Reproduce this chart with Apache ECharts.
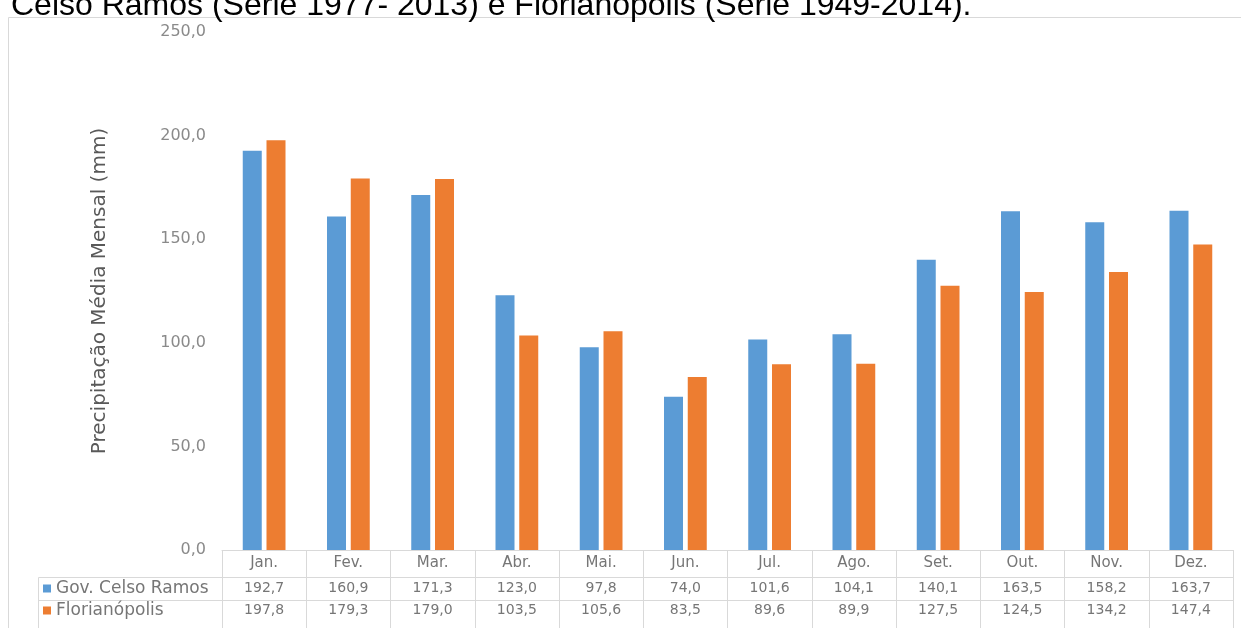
<!DOCTYPE html>
<html>
<head>
<meta charset="utf-8">
<script src="https://cdn.jsdelivr.net/npm/echarts@6/dist/echarts.min.js"></script>
<style>
  html, body { margin: 0; padding: 0; background: #ffffff; }
  #chart { width: 1241px; height: 628px; }
</style>
</head>
<body>
<div id="chart"></div>
<script>
// Monthly mean precipitation (mm)
const months = ['Jan.', 'Fev.', 'Mar.', 'Abr.', 'Mai.', 'Jun.', 'Jul.', 'Ago.', 'Set.', 'Out.', 'Nov.', 'Dez.'];
const seriesNames = ['Gov. Celso Ramos', 'Florianópolis'];
const celsoRamos = [192.7, 160.9, 171.3, 123.0, 97.8, 74.0, 101.6, 104.1, 140.1, 163.5, 158.2, 163.7];
const florianopolis = [197.8, 179.3, 179.0, 103.5, 105.6, 83.5, 89.6, 89.9, 127.5, 124.5, 134.2, 147.4];
const yTicks = [0, 50, 100, 150, 200, 250];

const fmt = v => Number(v).toFixed(1).replace('.', ',');
const borderColor = '#d9d9d9';
const textGrey = '#767676';
const font = 'DejaVu Sans';

const chart = echarts.init(document.getElementById('chart'), null, { renderer: 'canvas' });

// the data-table rows are extra category axes stacked under the plot
function tableAxis(offset, tickLen, labels, fontSize, margin) {
  return {
    type: 'category',
    data: months,
    position: 'bottom',
    offset: offset,
    axisLine: { show: true, lineStyle: { color: borderColor, width: 1 } },
    axisTick: { show: true, length: tickLen, inside: false, lineStyle: { color: borderColor } },
    axisLabel: {
      show: true,
      interval: 0,
      margin: margin,
      color: textGrey,
      fontFamily: font,
      fontSize: fontSize,
      formatter: (v, i) => labels ? fmt(labels[i]) : v
    },
    splitLine: { show: false }
  };
}

// one legend entry per table row, acting as the row header
function rowLegend(name, top) {
  return {
    orient: 'vertical',
    left: 43,
    top: top,
    padding: 0,
    itemWidth: 8,
    itemHeight: 8,
    icon: 'rect',
    selectedMode: false,
    data: [name],
    textStyle: { color: textGrey, fontFamily: font, fontSize: 17, lineHeight: 16 }
  };
}

chart.setOption({
  animation: false,
  title: {
    text: 'Celso Ramos (Série 1977- 2013) e Florianópolis (Série 1949-2014).',
    left: 6,
    top: -15,
    textStyle: { color: '#000000', fontFamily: 'Liberation Sans', fontSize: 32, fontWeight: 'normal' }
  },
  grid: { left: 222, right: 8, top: 32, bottom: 78, containLabel: false },
  legend: [rowLegend(seriesNames[0], 580), rowLegend(seriesNames[1], 602)],
  xAxis: [
    tableAxis(0, 27, null, 15, 6),
    tableAxis(27, 23, celsoRamos, 14, 4),
    tableAxis(50, 30, florianopolis, 14, 3)
  ],
  yAxis: {
    type: 'value',
    min: yTicks[0],
    max: yTicks[yTicks.length - 1],
    interval: 50,
    name: 'Precipitação Média Mensal (mm)',
    nameLocation: 'middle',
    nameGap: 112,
    nameRotate: 90,
    nameTextStyle: { color: '#595959', fontFamily: font, fontSize: 20 },
    axisLine: { show: false },
    axisTick: { show: false },
    splitLine: { show: false },
    axisLabel: { color: '#8a8a8a', fontFamily: font, fontSize: 16, margin: 16, formatter: v => fmt(v) }
  },
  series: [
    {
      name: seriesNames[0], type: 'bar', data: celsoRamos, xAxisIndex: 0,
      barWidth: 19, barGap: '25%',
      itemStyle: { color: '#5b9bd5' }
    },
    {
      name: seriesNames[1], type: 'bar', data: florianopolis, xAxisIndex: 0,
      barWidth: 19, barGap: '25%',
      itemStyle: { color: '#ed7d31' }
    }
  ],
  graphic: [
    // outer chart frame (top and left edges)
    { type: 'line', shape: { x1: 8.5, y1: 17.5, x2: 1241, y2: 17.5 }, style: { stroke: borderColor, lineWidth: 1 } },
    { type: 'line', shape: { x1: 8.5, y1: 17.5, x2: 8.5, y2: 628 }, style: { stroke: borderColor, lineWidth: 1 } },
    // series-name column of the data table
    { type: 'line', shape: { x1: 38.5, y1: 577.5, x2: 222, y2: 577.5 }, style: { stroke: borderColor, lineWidth: 1 } },
    { type: 'line', shape: { x1: 38.5, y1: 600.5, x2: 222, y2: 600.5 }, style: { stroke: borderColor, lineWidth: 1 } },
    { type: 'line', shape: { x1: 38.5, y1: 577.5, x2: 38.5, y2: 628 }, style: { stroke: borderColor, lineWidth: 1 } }
  ]
});
</script>
</body>
</html>
